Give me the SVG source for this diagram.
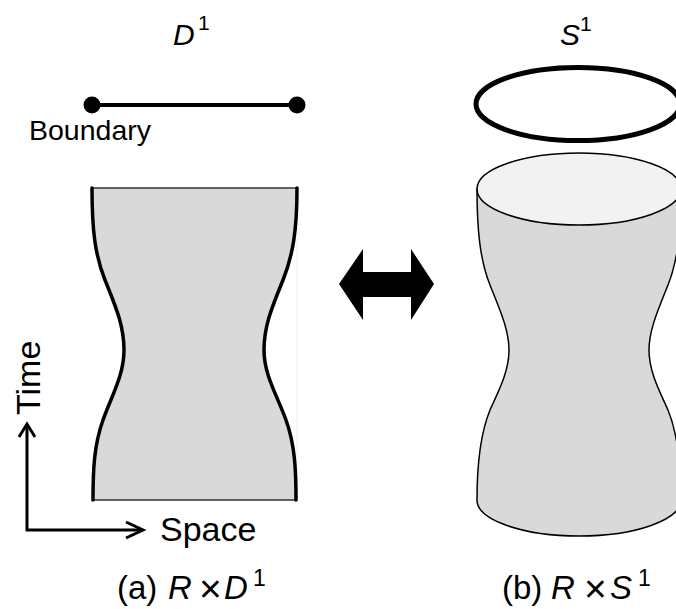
<svg xmlns="http://www.w3.org/2000/svg" width="676" height="609" viewBox="0 0 676 609">
<style>
text{font-family:"Liberation Sans",Arial,sans-serif;fill:#000}
.it{font-style:italic}
.side{fill:none;stroke:#000;stroke-width:3.5;stroke-linecap:round}
.edge{fill:none;stroke:#333;stroke-width:1.5}
.thin{stroke:#000;stroke-width:1.5}
.axis{fill:none;stroke:#000;stroke-width:3}
.x{font-size:39px}
</style>
<rect width="676" height="609" fill="#fff"/>
<g id="label-D1"><text x="173" y="45" font-size="30" class="it">D</text><text x="198" y="30" font-size="21">1</text></g>
<g id="label-S1"><text x="560" y="45" font-size="30" class="it">S</text><text x="580" y="31" font-size="21">1</text></g>
<g id="segment">
<line x1="92" y1="105" x2="297" y2="105" stroke="#000" stroke-width="4"/>
<circle cx="92" cy="105" r="8.5" fill="#000"/>
<circle cx="297" cy="105" r="8.5" fill="#000"/>
<text x="29" y="140" font-size="28.5">Boundary</text>
</g>
<g id="ring"><ellipse cx="578" cy="104" rx="102" ry="36.5" fill="none" stroke="#000" stroke-width="5"/></g>
<g id="left-sheet">
<line x1="297" y1="188" x2="297" y2="500" stroke="#f0f0f0" stroke-width="1"/>
<path d="M92,188 C92,230 95,255 105,280 C115,305 124,325 124,350 C124,375 112,395 103,420 C94,445 93,470 93,500 L296,500 C296,470 295,445 286,420 C277,395 264,375 264,350 C264,325 273,305 283,280 C293,255 297,230 297,188 Z" fill="#d9d9d9"/>
<line x1="92" y1="188" x2="297" y2="188" class="edge"/>
<line x1="93" y1="500" x2="296" y2="500" class="edge"/>
<path class="side" d="M92,188 C92,230 95,255 105,280 C115,305 124,325 124,350 C124,375 112,395 103,420 C94,445 93,470 93,500"/>
<path class="side" d="M297,188 C297,230 293,255 283,280 C273,305 264,325 264,350 C264,375 277,395 286,420 C295,445 296,470 296,500"/>
</g>
<g id="cylinder">
<path d="M477,189 C477,230 480,260 490,285 C500,310 509,330 509,350 C509,372 498,392 490,410 C481,432 477,460 477,500 A102,36 0 0 0 681,500 C681,460 677,432 668,410 C660,392 649,372 649,350 C649,330 658,310 668,285 C678,260 681,230 681,189 Z" fill="#d9d9d9" class="thin"/>
<ellipse cx="579" cy="189" rx="102" ry="36" fill="#f2f2f2" class="thin"/>
</g>
<g id="connectors">
<polygon points="339,284 363,249 363,272 411,272 411,249 434,284 411,320 411,297 363,297 363,320" fill="#000"/>
<polyline class="axis" points="27,424 27,530 143,530"/>
<polyline class="axis" points="19,437 27,424 35,437"/>
<polyline class="axis" points="126,522 143,530 126,538"/>
</g>
<g id="axis-labels">
<text transform="translate(40,415) rotate(-90)" font-size="34">Time</text>
<text x="160" y="541" font-size="34">Space</text>
</g>
<g id="caption-a"><text font-size="33" y="599"><tspan x="117">(a)</tspan><tspan x="168" class="it">R</tspan><tspan x="224" class="it">D</tspan></text><text x="199" y="602" class="x">×</text><text x="253" y="586" font-size="23">1</text></g>
<g id="caption-b"><text font-size="33" y="599"><tspan x="502">(b)</tspan><tspan x="551" class="it">R</tspan><tspan x="610" class="it">S</tspan></text><text x="584" y="602" class="x">×</text><text x="638" y="586" font-size="23">1</text></g>
</svg>
